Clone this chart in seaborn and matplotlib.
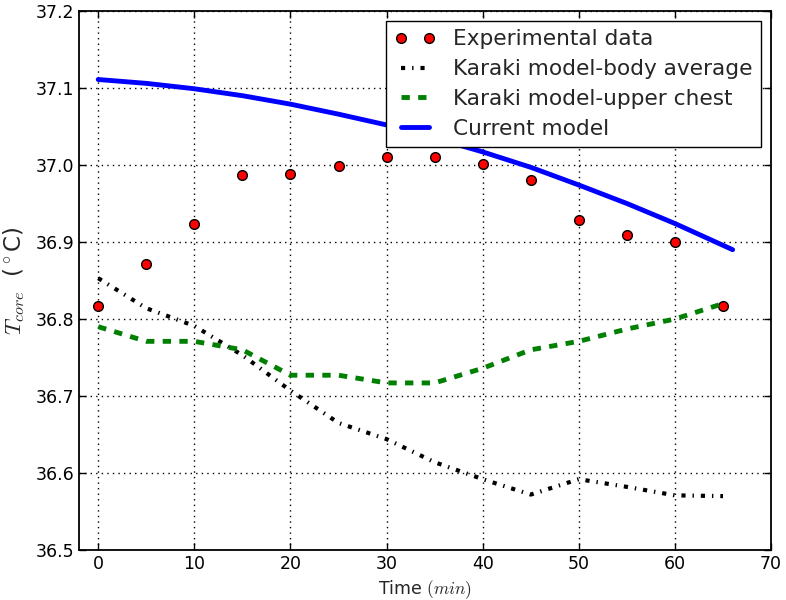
import matplotlib
matplotlib.use("Agg")
import matplotlib.pyplot as plt
import numpy as np
import pandas as pd
import seaborn as sns

# time points (min)
time_exp = [0, 5, 10, 15, 20, 25, 30, 35, 40, 45, 50, 55, 60, 65]
temp_exp = [36.817, 36.871, 36.923, 36.987, 36.988, 36.999, 37.010,
            37.010, 37.001, 36.981, 36.929, 36.909, 36.900, 36.817]

time_karaki = [0, 5, 10, 15, 20, 25, 30, 35, 40, 45, 50, 55, 60, 65]
temp_body_avg = [36.853, 36.814, 36.791, 36.753, 36.707, 36.665, 36.644,
                 36.614, 36.592, 36.572, 36.592, 36.582, 36.571, 36.570]
temp_upper_chest = [36.790, 36.771, 36.771, 36.760, 36.727, 36.727, 36.717,
                    36.717, 36.736, 36.760, 36.771, 36.787, 36.800, 36.820]

time_model = [0, 5, 10, 15, 20, 25, 30, 35, 40, 45, 50, 55, 60, 66]
temp_model = [37.111, 37.106, 37.099, 37.090, 37.079, 37.066, 37.052,
              37.035, 37.017, 36.997, 36.974, 36.950, 36.924, 36.890]

sns.set_style("ticks")
plt.rcParams.update({
    "font.family": ["DejaVu Sans"],
    "lines.scale_dashes": False,
    "lines.dashed_pattern": [6, 6],
    "lines.dashdot_pattern": [3, 5, 1, 5],
    "lines.dotted_pattern": [1, 3],
    "xtick.direction": "in",
    "ytick.direction": "in",
    "xtick.top": True,
    "ytick.right": True,
    "mathtext.fontset": "cm",
    "mathtext.default": "it",
})

fig = plt.figure(figsize=(7.86, 6.0), dpi=100)
ax = fig.add_axes([0.1005, 0.0833, 0.8805, 0.8984])

sns.lineplot(x=time_exp, y=temp_exp, ax=ax, color="red", marker="o",
             linestyle="", markersize=7, markeredgecolor="black",
             markeredgewidth=1, label="Experimental data")
sns.lineplot(x=time_karaki, y=temp_body_avg, ax=ax, color="black",
             linestyle="-.", linewidth=3, label="Karaki model-body average")
sns.lineplot(x=time_karaki, y=temp_upper_chest, ax=ax, color="green",
             linestyle="--", linewidth=3.5, label="Karaki model-upper chest")
sns.lineplot(x=time_model, y=temp_model, ax=ax, color="blue",
             linestyle="-", linewidth=3.5, label="Current model")

ax.set_xlim(-2, 70)
ax.set_ylim(36.5, 37.2)
ax.set_xticks(np.arange(0, 71, 10))
ax.set_yticks(np.arange(36.5, 37.21, 0.1))
ax.grid(True, color="black", linestyle=":", linewidth=1)
ax.tick_params(labelsize=12.5, length=5, width=1, colors="black")
for s in ax.spines.values():
    s.set_linewidth(1.3)
    s.set_color("black")

ax.set_xlabel("Time $(min)$", fontsize=12.5)
ax.set_ylabel(r"$T_{core}$  ($^\circ$C)", fontsize=16.5, labelpad=6)

leg = ax.legend(loc="upper right", numpoints=2, fontsize=15.6, fancybox=False,
                framealpha=1, edgecolor="black", borderaxespad=0.45,
                handlelength=1.9, handletextpad=0.8, borderpad=0.4,
                labelspacing=0.45)
leg.get_frame().set_linewidth(1)

plt.savefig("out.png", dpi=100)
